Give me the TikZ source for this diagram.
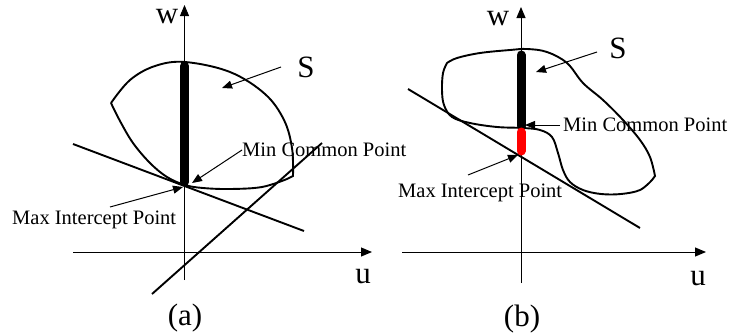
\documentclass[tikz,border=0pt]{standalone}
\usepackage{fontspec}
\setmainfont{Liberation Serif}
\usetikzlibrary{arrows.meta}
\definecolor{barred}{RGB}{255,0,0}
\begin{document}
\begin{tikzpicture}[x=1pt,y=-1pt,
  axis/.style={line width=1pt,-{Triangle[length=11pt,width=9pt]}},
  setline/.style={line width=1.9pt},
  tangent/.style={line width=1.9pt},
  pointer/.style={line width=1pt,-{Triangle[length=10pt,width=8pt]}},
  bigtxt/.style={font=\fontsize{31}{31}\selectfont,inner sep=0pt},
  smalltxt/.style={font=\fontsize{20.5}{20.5}\selectfont,inner sep=0pt},
  bar/.style={line width=9pt,line cap=round}]
\useasboundingbox (0,0) rectangle (731,335);
%% ---------------- panel (a)
\coordinate (aw0) at (184.5,280);
\coordinate (aw1) at (184.5,5);
\coordinate (au0) at (73,252);
\coordinate (au1) at (372,252);
\draw[axis] (aw0) -- (aw1);
\draw[axis] (au0) -- (au1);
\node[bigtxt] (lw) at (167,17) {w};
\node[bigtxt] (lu) at (363,277) {u};
\node[bigtxt] (la) at (185,318) {(a)};
% set S
\draw[setline] plot[smooth,tension=0.6] coordinates {(111,103) (130,80) (155,66) (185,62) (230,72) (265,94) (284,120) (292,148) (293,176)}
  -- (287,179)
  plot[smooth,tension=0.6] coordinates {(287,179) (262,187) (230,189) (203,188) (185,185) (167,177) (150,163) (133,143) (120,121) (111,103)};
% thick bar
\coordinate (ab0) at (184.5,66);
\coordinate (ab1) at (184.5,182);
\draw[bar] (ab0) -- (ab1);
% tangent lines
\coordinate (at0) at (73,144);
\coordinate (at1) at (304,231);
\draw[tangent] (at0) -- (at1);
\coordinate (as0) at (152,294);
\coordinate (as1) at (322,143);
\draw[tangent] (as0) -- (as1);
% labels
\node[bigtxt] (Sa) at (306,67) {S};
\coordinate (Sa0) at (281,67);
\coordinate (Sa1) at (222,88);
\draw[pointer] (Sa0) -- (Sa1);
\node[smalltxt,anchor=west] (mca) at (242,150) {Min Common Point};
\coordinate (mca1) at (192,183);
\draw[pointer] (mca.west) -- (mca1);
\node[smalltxt,anchor=west] (mia) at (12,220) {Max Intercept Point};
\coordinate (mia0) at (110,207);
\coordinate (mia1) at (183,187);
\draw[pointer] (mia0) -- (mia1);
%% ---------------- panel (b)
\coordinate (bw0) at (521,283);
\coordinate (bw1) at (521,7);
\coordinate (bu0) at (402,252);
\coordinate (bu1) at (706,252);
\draw[axis] (bw0) -- (bw1);
\draw[axis] (bu0) -- (bu1);
\node[bigtxt] (lwb) at (498,19) {w};
\node[bigtxt] (lub) at (698,279) {u};
\node[bigtxt] (lb) at (522,319) {(b)};
% set S
\draw[setline] plot[smooth,tension=0.6] coordinates {(447,63) (457,58) (480,53) (510,50) (527,49) (547,52) (567,63) (583,83) (603,100) (623,120) (640,140) (650,157) (655,176)}
  -- (652,180)
  plot[smooth,tension=0.6] coordinates {(652,180) (640,190) (621,194) (601,194) (583,190) (570,182) (563,170) (558,153) (552,137) (540,130) (523,128) (497,127) (470,123) (452,117) (444,105) (442,90) (443,73) (447,63)};
% tangent
\coordinate (bt0) at (408,89);
\coordinate (bt1) at (640,228);
\draw[tangent] (bt0) -- (bt1);
% bars
\coordinate (bb0) at (521,55);
\coordinate (bb1) at (521,126);
\draw[bar] (bb0) -- (bb1);
\coordinate (br0) at (521,132);
\coordinate (br1) at (521,151);
\draw[bar,barred] (br0) -- (br1);
% labels
\node[bigtxt] (Sb) at (618,48) {S};
\coordinate (Sb0) at (597,52);
\coordinate (Sb1) at (536,72);
\draw[pointer] (Sb0) -- (Sb1);
\node[smalltxt,anchor=west] (mcb) at (563,125) {Min Common Point};
\coordinate (mcb1) at (525,125);
\draw[pointer] ([xshift=-3pt]mcb.west) -- (mcb1);
\node[smalltxt,anchor=west] (mib) at (398,193) {Max Intercept Point};
\coordinate (mib0) at (468,175);
\coordinate (mib1) at (518,155);
\draw[pointer] (mib0) -- (mib1);
\end{tikzpicture}
\end{document}
